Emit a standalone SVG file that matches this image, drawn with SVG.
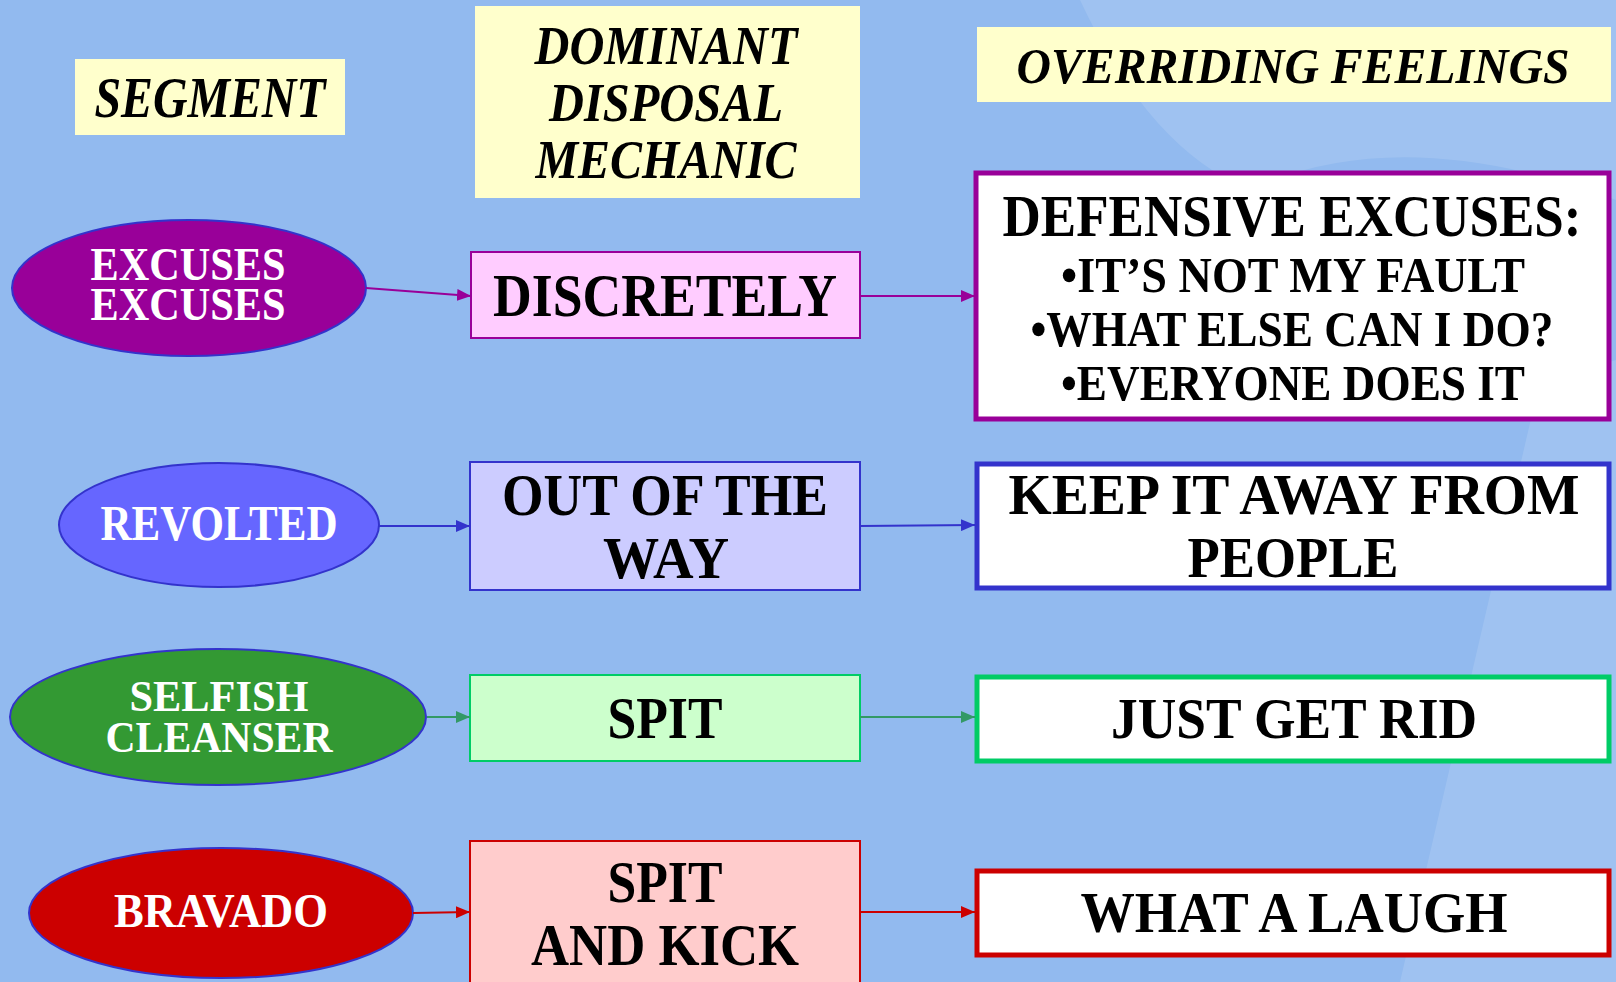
<svg xmlns="http://www.w3.org/2000/svg" width="1616" height="982" viewBox="0 0 1616 982">
<defs>
<style>
.t{font-family:"Liberation Serif","Times New Roman",serif;font-weight:bold;text-anchor:middle}
.h{font-style:italic;fill:#000}
.w{fill:#fff}
.k{fill:#000}
.hdr{fill:#FFFFCC}
.ell{stroke:#3333CC;stroke-width:2}
.mid{stroke-width:2}
.out{fill:#fff;stroke-width:5}
.c{fill:none;stroke-width:2}
</style>
<marker id="aP" markerWidth="14" markerHeight="12" refX="14" refY="6" orient="auto" markerUnits="userSpaceOnUse"><path d="M0,0 L14,6 L0,12 Z" fill="#990099"/></marker>
<marker id="aB" markerWidth="14" markerHeight="12" refX="14" refY="6" orient="auto" markerUnits="userSpaceOnUse"><path d="M0,0 L14,6 L0,12 Z" fill="#3333CC"/></marker>
<marker id="aG" markerWidth="14" markerHeight="12" refX="14" refY="6" orient="auto" markerUnits="userSpaceOnUse"><path d="M0,0 L14,6 L0,12 Z" fill="#339966"/></marker>
<marker id="aR" markerWidth="14" markerHeight="12" refX="14" refY="6" orient="auto" markerUnits="userSpaceOnUse"><path d="M0,0 L14,6 L0,12 Z" fill="#CC0000"/></marker>
</defs>
<rect x="0" y="0" width="1616" height="982" fill="#92BAEF"/>
<g id="background" fill="#ffffff" opacity="0.12">
<path d="M1080,0 L1616,0 L1616,200 Q1400,120 1250,190 Q1150,150 1080,0 Z"/>
<path d="M1540,380 L1616,360 L1616,982 L1400,982 Z"/>
<path d="M1520,800 L1616,982 L1470,982 Z"/>
</g>
<g id="hdr-segment">
<rect class="hdr" x="75" y="59" width="270" height="76"/>
<text class="t h" x="210" y="117" font-size="56" textLength="231" lengthAdjust="spacingAndGlyphs">SEGMENT</text>
</g>
<g id="hdr-mechanic">
<rect class="hdr" x="475" y="6" width="385" height="192"/>
<text class="t h" x="666" y="64" font-size="54" textLength="263" lengthAdjust="spacingAndGlyphs">DOMINANT</text>
<text class="t h" x="666" y="121" font-size="54" textLength="234" lengthAdjust="spacingAndGlyphs">DISPOSAL</text>
<text class="t h" x="666" y="178" font-size="54" textLength="261" lengthAdjust="spacingAndGlyphs">MECHANIC</text>
</g>
<g id="hdr-feelings">
<rect class="hdr" x="977" y="27" width="634" height="75"/>
<text class="t h" x="1293" y="83" font-size="51" textLength="553" lengthAdjust="spacingAndGlyphs">OVERRIDING FEELINGS</text>
</g>
<g id="seg-excuses">
<ellipse class="ell" cx="189" cy="288" rx="177" ry="68" fill="#990099"/>
<text class="t w" x="188" y="280" font-size="46" textLength="195" lengthAdjust="spacingAndGlyphs">EXCUSES</text>
<text class="t w" x="188" y="320" font-size="46" textLength="195" lengthAdjust="spacingAndGlyphs">EXCUSES</text>
</g>
<g id="mech-discretely">
<rect class="mid" x="471" y="252" width="389" height="86" fill="#FFCCFF" stroke="#990099"/>
<text class="t k" x="665" y="316" font-size="62" textLength="344" lengthAdjust="spacingAndGlyphs">DISCRETELY</text>
</g>
<g id="feel-defensive">
<rect class="out" x="976" y="173" width="633" height="246" stroke="#990099"/>
<text class="t k" x="1292" y="236" font-size="60" textLength="579" lengthAdjust="spacingAndGlyphs">DEFENSIVE EXCUSES:</text>
<text class="t k" x="1293" y="292" font-size="51" textLength="464" lengthAdjust="spacingAndGlyphs">•IT’S NOT MY FAULT</text>
<text class="t k" x="1292" y="346" font-size="51" textLength="523" lengthAdjust="spacingAndGlyphs">•WHAT ELSE CAN I DO?</text>
<text class="t k" x="1293" y="400" font-size="51" textLength="464" lengthAdjust="spacingAndGlyphs">•EVERYONE DOES IT</text>
</g>
<g id="seg-revolted">
<ellipse class="ell" cx="219" cy="525" rx="160" ry="62" fill="#6666FF"/>
<text class="t w" x="219" y="540" font-size="50" textLength="237" lengthAdjust="spacingAndGlyphs">REVOLTED</text>
</g>
<g id="mech-outofway">
<rect class="mid" x="470" y="462" width="390" height="128" fill="#CCCCFF" stroke="#3333CC"/>
<text class="t k" x="665" y="515" font-size="59" textLength="326" lengthAdjust="spacingAndGlyphs">OUT OF THE</text>
<text class="t k" x="666" y="578" font-size="59" textLength="126" lengthAdjust="spacingAndGlyphs">WAY</text>
</g>
<g id="feel-keep">
<rect class="out" x="977" y="464" width="632" height="124" stroke="#3333CC"/>
<text class="t k" x="1294" y="514" font-size="58" textLength="571" lengthAdjust="spacingAndGlyphs">KEEP IT AWAY FROM</text>
<text class="t k" x="1293" y="577" font-size="58" textLength="211" lengthAdjust="spacingAndGlyphs">PEOPLE</text>
</g>
<g id="seg-selfish">
<ellipse class="ell" cx="218" cy="717" rx="208" ry="68" fill="#339933"/>
<text class="t w" x="219" y="711" font-size="45" textLength="179" lengthAdjust="spacingAndGlyphs">SELFISH</text>
<text class="t w" x="219" y="752" font-size="45" textLength="227" lengthAdjust="spacingAndGlyphs">CLEANSER</text>
</g>
<g id="mech-spit">
<rect class="mid" x="470" y="675" width="390" height="86" fill="#CCFFCC" stroke="#00CC66"/>
<text class="t k" x="665" y="738" font-size="59" textLength="115" lengthAdjust="spacingAndGlyphs">SPIT</text>
</g>
<g id="feel-getrid">
<rect class="out" x="977" y="677" width="632" height="84" stroke="#00CC66"/>
<text class="t k" x="1294" y="738" font-size="58" textLength="366" lengthAdjust="spacingAndGlyphs">JUST GET RID</text>
</g>
<g id="seg-bravado">
<ellipse class="ell" cx="221" cy="913" rx="192" ry="65" fill="#CC0000"/>
<text class="t w" x="221" y="927" font-size="48" textLength="214" lengthAdjust="spacingAndGlyphs">BRAVADO</text>
</g>
<g id="mech-spitkick">
<rect class="mid" x="470" y="841" width="390" height="160" fill="#FFCCCC" stroke="#CC0000"/>
<text class="t k" x="665" y="902" font-size="60" textLength="115" lengthAdjust="spacingAndGlyphs">SPIT</text>
<text class="t k" x="665" y="965" font-size="60" textLength="268" lengthAdjust="spacingAndGlyphs">AND KICK</text>
</g>
<g id="feel-laugh">
<rect class="out" x="977" y="871" width="632" height="84" stroke="#CC0000"/>
<text class="t k" x="1294" y="932" font-size="58" textLength="427" lengthAdjust="spacingAndGlyphs">WHAT A LAUGH</text>
</g>
<g id="connectors">
<line class="c" x1="366" y1="288" x2="471" y2="296" stroke="#990099" marker-end="url(#aP)"/>
<line class="c" x1="860" y1="296" x2="975" y2="296" stroke="#990099" marker-end="url(#aP)"/>
<line class="c" x1="379" y1="526" x2="470" y2="526" stroke="#3333CC" marker-end="url(#aB)"/>
<line class="c" x1="860" y1="526" x2="975" y2="525" stroke="#3333CC" marker-end="url(#aB)"/>
<line class="c" x1="427" y1="717" x2="470" y2="717" stroke="#339966" marker-end="url(#aG)"/>
<line class="c" x1="860" y1="717" x2="975" y2="717" stroke="#339966" marker-end="url(#aG)"/>
<line class="c" x1="413" y1="913" x2="470" y2="912" stroke="#CC0000" marker-end="url(#aR)"/>
<line class="c" x1="860" y1="912" x2="975" y2="912" stroke="#CC0000" marker-end="url(#aR)"/>
</g>
</svg>
